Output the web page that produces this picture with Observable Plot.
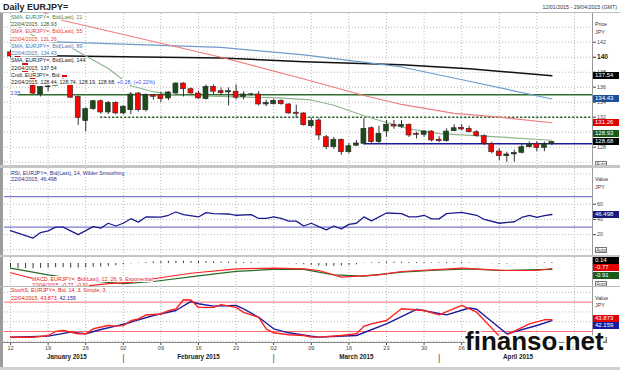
<!DOCTYPE html>
<html>
<head>
<meta charset="utf-8">
<script src="https://cdn.jsdelivr.net/npm/d3@7"></script>
<script src="https://cdn.jsdelivr.net/npm/@observablehq/plot@0.6"></script>
<style>
html,body{margin:0;padding:0;background:#fff;}
#wrap{position:relative;width:620px;height:370px;overflow:hidden;background:#fff;font-family:"Liberation Sans",Arial,sans-serif;}
#wrap svg{position:absolute;left:0;}
.t{position:absolute;white-space:nowrap;}
.lg{position:absolute;white-space:nowrap;font-size:5.3px;}
.lg span{background:#fff;}
.vb{position:absolute;left:593px;width:26px;height:7px;line-height:7px;font-size:6px;color:#fff;padding-left:2px;box-sizing:border-box;white-space:nowrap;}
.auto{position:absolute;left:595px;width:12px;height:6.5px;line-height:5.5px;font-size:4.6px;color:#333;border:0.8px solid #777;background:#fff;text-align:center;box-sizing:border-box;}
.bar{position:absolute;}
.wm{text-shadow:2px 0 0 #fff,-2px 0 0 #fff,0 2px 0 #fff,0 -2px 0 #fff,1.5px 1.5px 0 #fff,-1.5px 1.5px 0 #fff,1.5px -1.5px 0 #fff,-1.5px -1.5px 0 #fff;}
</style>
</head>
<body>
<div id="wrap"></div>
<script>
// ================= DATA (year 2015, trading days) =================
const candleDays = ["01-12","01-13","01-14","01-15","01-16","01-19","01-20","01-21","01-22","01-23","01-26","01-27","01-28","01-29","01-30","02-02","02-03","02-04","02-05","02-06","02-09","02-10","02-11","02-12","02-13","02-16","02-17","02-18","02-19","02-20","02-23","02-24","02-25","02-26","02-27","03-02","03-03","03-04","03-05","03-06","03-09","03-10","03-11","03-12","03-13","03-16","03-17","03-18","03-19","03-20","03-23","03-24","03-25","03-26","03-27","03-30","03-31","04-01","04-02","04-03","04-06","04-07","04-08","04-09","04-10","04-13","04-14","04-15","04-16","04-17","04-20","04-21","04-22"];
const opens  = [140.65,140.1,139.6,137.9,135.03, 136.0,136.2,136.7,136.3,134.7, 131.47,133.07,134.13,132.63,133.92, 132.5,132.93,135.16,132.93,134.93, 134.93,134.5,135.16,136.49,135.73, 135.16,134.4,136.05,135.47,135.3, 135.4,134.7,135.0,135.03,133.7, 133.73,134.19,133.7,132.6,132.5, 130.8,131.56,129.33,128.0,128.99, 127.33,128.2,128.45,130.53,128.67, 130.1,130.99,130.72,130.99,129.79, 129.65,130.09,129.0,128.8,130.13, 130.59,130.45,130.0,129.47,128.45, 127.43,126.8,127.03,127.25,128.0, 128.45,127.9,128.44];
const highs  = [140.9,140.4,139.8,138.2,136.1, 136.3,137.0,137.1,136.5,134.8, 133.25,134.27,134.3,134.1,134.05, 133.55,135.3,135.3,135.1,135.0, 135.3,135.4,136.6,136.6,135.9, 135.47,136.3,136.3,135.9,135.9, 136.3,135.4,135.2,135.4,134.27, 134.4,134.3,133.8,133.6,132.6, 131.9,131.8,129.56,129.3,129.1, 128.5,128.9,131.8,130.7,130.8, 131.56,131.56,131.56,131.1,130.0, 130.2,130.2,129.4,130.45,130.99, 130.99,130.8,130.2,129.65,128.67, 127.8,127.33,127.6,128.45,128.7, 128.77,128.67,128.74];
const lows   = [139.9,139.3,137.6,135.0,134.7, 135.4,136.2,136.25,134.5,130.9, 130.05,132.9,132.4,132.36,132.3, 132.3,132.35,132.7,132.7,134.27, 133.95,134.2,135.0,134.7,135.1, 134.4,134.3,135.0,134.9,133.5, 134.3,134.3,134.8,133.5,133.4, 133.6,133.6,132.4,131.9,130.8, 130.6,128.9,127.7,127.7,126.9, 127.1,128.1,128.3,128.45,128.45, 129.33,130.4,130.5,129.3,129.1, 129.33,128.7,128.6,128.67,130.09, 130.2,129.9,129.33,128.2,127.1, 126.2,126.0,126.0,127.1,127.9, 127.4,127.4,128.19];
const closes = [140.1,139.6,137.9,135.15,136.05, 136.1,136.7,136.35,134.6,131.9, 133.07,134.13,132.63,133.92,132.5, 133.4,135.03,132.93,134.93,134.72, 134.4,135.3,136.49,135.73,135.16, 134.5,136.05,135.4,135.2,135.47, 134.6,135.03,135.05,133.7,133.92, 134.19,133.73,132.5,132.45,130.93, 131.5,129.56,128.0,128.99,127.33, 128.13,128.5,130.45,128.67,129.79, 130.99,130.76,130.99,129.56,129.65, 130.09,128.9,128.8,130.09,130.53, 130.36,130.0,129.47,128.45,127.33, 126.8,127.03,127.25,128.0,128.45, 127.9,128.40,128.68];

const sma21Days   = ["01-12","01-15","01-22","01-29","02-03","02-06","02-11","02-23","03-02","03-09","03-12","03-18","03-23","03-26","04-01","04-09","04-22"];
const sma21Values = [144.7,142.9,141.3,138.5,136.2,135.4,134.95,134.7,134.6,134.3,133.6,132.2,131.3,130.45,129.8,129.47,128.93];
const sma55Days   = ["01-16","01-21","02-19","03-06","03-18","03-25","04-03","04-13","04-22"];
const sma55Values = [146.1,144.9,140.0,137.1,134.9,133.7,132.5,132.0,131.26];
const sma89Days   = ["01-12","01-21","02-19","03-06","03-25","04-07","04-22"];
const sma89Values = [142.3,142.0,141.3,140.3,138.7,136.8,134.43];
const sma144Days  = ["01-12","02-02","02-19","03-06","03-25","04-07","04-22"];
const sma144Values= [140.25,140.05,139.9,139.4,139.0,138.45,137.54];

const levelValues = [135, 132, 128.45];
const levelStart  = ["01-13","01-28","03-18"];

const rsiDays = ["01-12","01-13","01-15","01-16","01-19","01-20","01-21","01-23","01-27","01-28","01-29","01-30","02-02","02-03","02-04","02-05","02-09","02-10","02-11","02-12","02-16","02-17","02-18","02-20","02-23","02-25","02-26","02-27","03-02","03-03","03-04","03-05","03-06","03-09","03-10","03-11","03-12","03-13","03-16","03-17","03-18","03-19","03-23","03-25","03-26","03-27","03-30","03-31","04-01","04-02","04-06","04-08","04-09","04-13","04-15","04-16","04-17","04-20","04-21","04-22"];
const rsiValues = [25.4,22,15.6,22.8,25,30,30,20,30.5,28.5,35,31.4,35,41,36.5,43.3,43,45.5,49.8,46.4,43.3,49,47.7,47.2,45.5,46.4,41.3,41.3,43.3,41.3,37.8,37.8,31.4,35,30.5,26.3,31.4,27.6,33.6,35,43.3,38.2,48.5,47.7,43.3,43.3,45.5,40.8,40.8,47.7,49.4,45.5,40,35,37,42.6,45.5,42.6,45.0,46.498];
const rsiBands = [70, 30];

const macdDays   = ["01-12","01-15","01-20","01-23","01-29","02-03","02-06","02-13","02-23","03-02","03-06","03-10","03-13","03-20","03-25","04-06","04-09","04-14","04-20","04-22"];
const macdValues = [-1.43,-2.31,-3.0,-3.6,-3.1,-2.9,-2.35,-1.5,-0.82,-0.72,-0.82,-1.08,-2.1,-1.74,-1.23,-0.72,-0.92,-1.08,-1.08,-0.77];
const signalDays   = ["01-12","01-19","01-26","02-02","02-06","02-16","02-23","03-02","03-06","03-12","03-18","03-25","03-31","04-07","04-13","04-22"];
const signalValues = [-0.72,-1.74,-2.6,-3.1,-2.77,-1.9,-1.2,-0.92,-0.92,-1.74,-1.95,-1.34,-1.08,-0.82,-1.08,-0.91];
const histValues = [-0.7,-0.8,-0.8,-0.8,-0.75,-0.7,-0.65,-0.65,-0.7,-0.7, -0.65,-0.6,-0.55,-0.45,-0.35,-0.2,-0.05,0.05,0.15,0.25, 0.3,0.35,0.35,0.35,0.3,0.3,0.3,0.25,0.2,0.2, 0.2,0.15,0.15,0.1,0.05,0.05,0,-0.05,-0.1,-0.2, -0.3,-0.4,-0.45,-0.45,-0.4,-0.3,-0.2,0.05,0.1,0.15, 0.2,0.2,0.2,0.15,0.15,0.15,0.1,0.1,0.15,0.15, 0.15,0.1,0.05,0,-0.05,-0.1,-0.1,-0.05,0,0.05, 0.05,0.1,0.14];

const stochKDays = ["01-12","01-15","01-19","01-20","01-21","01-23","01-26","01-27","01-29","01-30","02-02","02-03","02-04","02-05","02-09","02-10","02-11","02-12","02-13","02-16","02-18","02-19","02-23","02-24","02-26","02-27","03-02","03-04","03-06","03-09","03-10","03-13","03-17","03-18","03-19","03-23","03-25","03-30","04-01","04-06","04-08","04-13","04-14","04-17","04-21","04-22"];
const stochKValues = [8.3,8.3,11.8,20,22,15.3,15.3,25.5,32.3,31,32,42,45.6,53.7,55.8,62.5,66,85,84.5,69.3,69.3,75,69.3,59,49,25.5,17.3,13.3,11.8,8.4,8.4,11.8,15.3,30.8,35.7,42.5,66.4,62.9,54,73.2,59.4,10.5,13.3,35.7,43.9,43.873];
const stochDDays = ["01-12","01-19","01-22","01-26","01-28","01-30","02-03","02-06","02-11","02-13","02-16","02-18","02-23","02-24","02-26","03-02","03-04","03-09","03-10","03-17","03-23","03-27","04-02","04-07","04-08","04-14","04-20","04-22"];
const stochDValues = [8.4,10.5,18.7,15.3,24,31,39,52.7,62.9,81.4,76.7,71.8,73.2,66.3,49,25.5,17.3,10.5,8.4,11.8,35.7,65.4,54,68,65.4,15.3,32.3,42.159];
const stochBands = [80, 20];

const tickDays   = ["01-12","01-19","01-26","02-02","02-09","02-16","02-23","03-02","03-09","03-16","03-23","03-30","04-06","04-13","04-20","04-27"];
const tickLabels = ["12","19","26","02","09","16","23","02","09","16","23","30","06","13","20","27"];
const monthNames = ["January 2015","February 2015","March 2015","April 2015"];
const monthFirst = ["01-12","02-02","03-02","04-01"];
const monthLast  = ["01-30","02-27","03-31","04-29"];
const priceTicks = [142,138,136,134,132,130,128];
const priceMajor = [140];
const rsiTicks = [20,40,60];
const lastDate = "22/04/2015";

// ================= helpers =================
const wrap = document.getElementById("wrap");
const fmt = d3.utcFormat("%m-%d");
const tradingDays = d3.utcDays(new Date(Date.UTC(2015,0,12)), new Date(Date.UTC(2015,3,30))).filter(d => d.getUTCDay() % 6 !== 0);
const dayIndex = new Map(tradingDays.map((d, i) => [fmt(d), i]));
const idx = s => dayIndex.get(s);
const xDomain = [-0.8, tradingDays.length - 1 + 0.4];
const series = (days, vals) => days.map((d, k) => ({i: idx(d), v: vals[k]}));
const FONT = '"Liberation Sans", Arial, sans-serif';
const base = (h, mb = 0) => ({
  width: 620, height: h + mb, marginLeft: 4, marginRight: 28, marginTop: 0, marginBottom: mb,
  x: {domain: xDomain, axis: null},
  style: {background: "transparent", fontFamily: FONT, fontSize: "5.3px", overflow: "visible"}
});
const G = {stroke: "#a8a8a8", strokeOpacity: 1, strokeDasharray: "1,2", strokeWidth: 0.8};
const mondays = tickDays.map(idx);
const labelByIdx = new Map(mondays.map((m, k) => [m, tickLabels[k]]));

const candles = candleDays.map((d, k) => ({i: idx(d), o: opens[k], h: highs[k], l: lows[k], c: closes[k]}));
const hist = candleDays.map((d, k) => ({i: idx(d), v: histValues[k]}));
const levelStyles = [
  {stroke: "#2f6f2f", strokeWidth: 1.5},
  {stroke: "#1f5a1f", strokeWidth: 1.4, strokeDasharray: "2,2"},
  {stroke: "#1c1c9a", strokeWidth: 1.5}
];

function place(svg, top) { svg.style.top = top + "px"; wrap.appendChild(svg); }
function yOf(plot, top, v) {
  const s = plot.scale("y");
  const p = s.apply ? s.apply(v) : s.range[0] + (v - s.domain[0]) / (s.domain[1] - s.domain[0]) * (s.range[1] - s.range[0]);
  return top + p;
}
function addDiv(cls, st, text) {
  const d = document.createElement("div"); d.className = cls; Object.assign(d.style, st);
  if (text != null) d.textContent = text; wrap.appendChild(d); return d;
}

// ================= MAIN PRICE PANEL =================
const MAIN_TOP = 13, MAIN_H = 152;
const mainPlot = Plot.plot({
  ...base(MAIN_H),
  y: {domain: [125.56, 145.83], axis: null},
  marks: [
    Plot.gridX(mondays, G),
    Plot.gridY(d3.range(126, 146, 2), G),
    ...levelValues.map((v, k) => Plot.ruleY([v], {x1: idx(levelStart[k]), x2: xDomain[1], ...levelStyles[k]})),
    Plot.line(series(sma144Days, sma144Values), {x: "i", y: "v", stroke: "#111", strokeWidth: 1.5, clip: true}),
    Plot.line(series(sma89Days, sma89Values), {x: "i", y: "v", stroke: "#6f9acb", strokeWidth: 1.2, clip: true}),
    Plot.line(series(sma55Days, sma55Values), {x: "i", y: "v", stroke: "#f07c7c", strokeWidth: 1.2, clip: true}),
    Plot.line(series(sma21Days, sma21Values), {x: "i", y: "v", stroke: "#8fb58f", strokeWidth: 1.2, clip: true}),
    Plot.ruleX(candles, {x: "i", y1: "l", y2: "h", stroke: "#333", strokeWidth: 1}),
    Plot.rect(candles, {x1: d => d.i - 0.33, x2: d => d.i + 0.33, y1: "o", y2: "c",
      fill: d => d.c >= d.o ? "#1b4a1b" : "#ff0000", stroke: "#2a2a2a", strokeWidth: 0.6}),
    Plot.text([levelValues[0]], {x: xDomain[0], y: d => d, text: d => String(d), dx: 6, dy: -1.5, textAnchor: "start", fontSize: 6, fill: "#5a5ab8"}),
    Plot.axisY(priceTicks, {anchor: "right", tickSize: 3, tickPadding: 1.5, fontSize: 5.3, color: "#444", label: null}),
    Plot.axisY(priceMajor, {anchor: "right", tickSize: 3, tickPadding: 1.5, fontSize: 6.6, fontWeight: "bold", color: "#222", label: null})
  ]
});
place(mainPlot, MAIN_TOP);

// ================= RSI PANEL =================
const RSI_TOP = 168, RSI_H = 87;
const rsiPlot = Plot.plot({
  ...base(RSI_H),
  y: {domain: [-7.4, 107], axis: null},
  marks: [
    Plot.gridX(mondays, G),
    Plot.gridY([0, 20, 40, 60, 80, 100], G),
    Plot.ruleY(rsiBands, {stroke: "#7b7bd0", strokeWidth: 1.2}),
    Plot.line(series(rsiDays, rsiValues), {x: "i", y: "v", stroke: "#1c1c8e", strokeWidth: 1.3}),
    Plot.axisY(rsiTicks, {anchor: "right", tickSize: 3, tickPadding: 1.5, fontSize: 5.3, color: "#444", label: null})
  ]
});
place(rsiPlot, RSI_TOP);

// ================= MACD PANEL =================
const MACD_TOP = 257, MACD_H = 29;
const macdPlot = Plot.plot({
  ...base(MACD_H),
  y: {domain: [-3.54, 0.92], axis: null},
  marks: [
    Plot.gridX(mondays, G),
    Plot.ruleX(hist, {x: "i", y1: 0, y2: "v", stroke: "#222", strokeWidth: 0.9}),
    Plot.line(series(signalDays, signalValues), {x: "i", y: "v", stroke: "#2a6a2a", strokeWidth: 1.2, clip: true}),
    Plot.line(series(macdDays, macdValues), {x: "i", y: "v", stroke: "#ff2020", strokeWidth: 1.2, clip: true})
  ]
});
place(macdPlot, MACD_TOP);

// ================= STOCHASTIC PANEL + TIME AXIS =================
const STO_TOP = 288, STO_H = 54, AXIS_H = 28;
const months = monthNames.map((n, k) => ({name: n, mid: (idx(monthFirst[k]) + idx(monthLast[k]) + 1) / 2}));
const monthBreaks = monthFirst.slice(1).map(idx);
const stoPlot = Plot.plot({
  ...base(STO_H, AXIS_H),
  y: {domain: [-2.5, 107.9], axis: null},
  marks: [
    Plot.gridX(mondays, G),
    Plot.gridY([0, 40, 60, 100], G),
    Plot.ruleY(stochBands, {stroke: "#ff6a6a", strokeWidth: 1}),
    Plot.line(series(stochDDays, stochDValues), {x: "i", y: "v", stroke: "#1a1aa0", strokeWidth: 1.4}),
    Plot.line(series(stochKDays, stochKValues), {x: "i", y: "v", stroke: "#ff2020", strokeWidth: 1.4}),
    Plot.axisX(mondays, {anchor: "bottom", tickSize: 3, tickPadding: 1, fontSize: 5.6, color: "#444", label: null, tickFormat: d => labelByIdx.get(d)}),
    Plot.text(months, {x: "mid", text: "name", frameAnchor: "bottom", dy: 14.5, lineAnchor: "middle", fontSize: 6.3, fontWeight: "bold", fill: "#222"}),
    Plot.text(monthBreaks, {x: d => d, text: () => "|", frameAnchor: "bottom", dy: 15.5, lineAnchor: "middle", fontSize: 9, fill: "#555"})
  ]
});
place(stoPlot, STO_TOP);

// ================= frame / separators =================
addDiv("bar", {left: "0px", top: "12.3px", width: "620px", height: "0.8px", background: "#bdbdbd"});
addDiv("bar", {left: "0px", top: "13px", width: "2.5px", height: "357px", background: "#9c9c9c"});
addDiv("bar", {left: "592px", top: "13px", width: "0.8px", height: "329px", background: "#999"});
addDiv("bar", {left: "3px", top: "341.8px", width: "589px", height: "0.8px", background: "#888"});
addDiv("bar", {left: "0px", top: "366.5px", width: "620px", height: "3.5px", background: "#d0d0d0"});

// ================= titles =================
addDiv("t", {left: "3px", top: "1.5px", fontSize: "9px", lineHeight: "10px", fontWeight: "bold", color: "#222"}, "Daily EURJPY=");
addDiv("t", {right: "3px", top: "3.3px", fontSize: "5.3px", lineHeight: "8px", color: "#333"}, "12/01/2015 - 29/04/2015 (GMT)");

// ================= legends =================
function legend(left, top, lineH, lines) {
  const box = addDiv("lg", {left: left + "px", top: top + "px"});
  for (const segs of lines) {
    const row = document.createElement("div");
    row.style.height = lineH + "px"; row.style.lineHeight = lineH + "px";
    const outer = document.createElement("span");
    for (const [t, c] of segs) {
      const s = document.createElement("span");
      if (t === null) {
        Object.assign(s.style, {display: "inline-block", width: "5px", height: "2px", background: c, marginLeft: "3px", verticalAlign: "middle"});
      } else { s.textContent = t; s.style.color = c; }
      outer.appendChild(s);
    }
    row.appendChild(outer); box.appendChild(row);
  }
  return box;
}
const f2 = v => v.toFixed(2);
const last = closes.length - 1;
const chg = closes[last] - closes[last - 1];
const chgTxt = (chg >= 0 ? "+" : "") + f2(chg) + ", (" + (chg >= 0 ? "+" : "") + f2(chg / closes[last - 1] * 100) + "%)";
legend(11, 13.65, 7.3, [
  [["SMA, EURJPY=, Bid(Last), 21", "#4f7f4f"]],
  [[lastDate + ", " + f2(sma21Values.at(-1)), "#2f5a2f"]],
  [["SMA, EURJPY=, Bid(Last), 55", "#e83a3a"]],
  [[lastDate + ", " + f2(sma55Values.at(-1)), "#e83a3a"]],
  [["SMA, EURJPY=, Bid(Last), 89", "#4a78b8"]],
  [[lastDate + ", " + f2(sma89Values.at(-1)), "#4a78b8"]],
  [["SMA, EURJPY=, Bid(Last), 144", "#222"]],
  [[lastDate + ", " + f2(sma144Values.at(-1)), "#222"]],
  [["Cndl, EURJPY=, Bid", "#222"], [null, "#e00000"]],
  [[lastDate + ", " + [opens[last], highs[last], lows[last], closes[last]].map(f2).join(", ") + ", ", "#222"], [chgTxt, "#3355ee"]]
]);
legend(11, 169.5, 6.3, [
  [["RSI, EURJPY=, Bid(Last), 14, Wilder Smoothing", "#2a2a8a"]],
  [[lastDate + ", " + rsiValues.at(-1).toFixed(3), "#2a2a8a"]]
]);
legend(32, 275.9, 6.3, [
  [["MACD, EURJPY=, Bid(Last), 12, 26, 9, Exponential", "#e02020"]],
  [[lastDate + ", " + f2(macdValues.at(-1)) + ", " + f2(signalValues.at(-1)), "#e02020"]]
]);
legend(11, 286.3, 8, [
  [["StochS, EURJPY=, Bid, 14, 3, Simple, 3", "#e02020"]],
  [[lastDate + ", " + stochKValues.at(-1).toFixed(3) + ", ", "#e02020"], [stochDValues.at(-1).toFixed(3), "#2020a0"]]
]);

// ================= right-hand labels and value boxes =================
addDiv("t", {left: "595px", top: "21.4px", fontSize: "5.3px", lineHeight: "7.3px", color: "#333"}, "Price");
addDiv("t", {left: "595px", top: "28.6px", fontSize: "5.3px", lineHeight: "7.3px", color: "#333"}, "JPY");
addDiv("t", {left: "595px", top: "176.4px", fontSize: "5.3px", lineHeight: "7.3px", color: "#333"}, "Value");
addDiv("t", {left: "595px", top: "184.2px", fontSize: "5.3px", lineHeight: "7.3px", color: "#333"}, "JPY");
addDiv("t", {left: "595px", top: "295.3px", fontSize: "5.3px", lineHeight: "7.3px", color: "#333"}, "Value");
addDiv("t", {left: "595px", top: "301.8px", fontSize: "5.3px", lineHeight: "7.3px", color: "#333"}, "JPY");

function vbox(y, text, bg, fg = "#fff") { addDiv("vb", {top: (y - 3.5) + "px", background: bg, color: fg}, text); }
vbox(yOf(mainPlot, MAIN_TOP, sma144Values.at(-1)), f2(sma144Values.at(-1)), "#000");
vbox(yOf(mainPlot, MAIN_TOP, sma89Values.at(-1)), f2(sma89Values.at(-1)), "#1f4f9a");
vbox(yOf(mainPlot, MAIN_TOP, sma55Values.at(-1)), f2(sma55Values.at(-1)), "#e00000");
vbox(yOf(mainPlot, MAIN_TOP, sma21Values.at(-1)) - 6.5, f2(sma21Values.at(-1)), "#1b5a1b");
vbox(yOf(mainPlot, MAIN_TOP, closes[last]), f2(closes[last]), "#000");
vbox(yOf(rsiPlot, RSI_TOP, rsiValues.at(-1)), rsiValues.at(-1).toFixed(3), "#1a1a7a");
vbox(yOf(macdPlot, MACD_TOP, histValues.at(-1)) - 2, f2(histValues.at(-1)), "#000");
vbox(yOf(macdPlot, MACD_TOP, macdValues.at(-1)), f2(macdValues.at(-1)), "#e00000");
vbox(yOf(macdPlot, MACD_TOP, signalValues.at(-1)) + 7, f2(signalValues.at(-1)), "#1b5a1b");
vbox(yOf(stoPlot, STO_TOP, stochKValues.at(-1)) - 1, stochKValues.at(-1).toFixed(3), "#e00000");
vbox(yOf(stoPlot, STO_TOP, stochDValues.at(-1)) + 5, stochDValues.at(-1).toFixed(3), "#1a1aa0");
for (const y of [164, 250, 284, 340]) addDiv("auto", {top: (y - 3.25) + "px"}, "Auto");

// panel separators (drawn over legends, like the original)
addDiv("bar", {left: "0px", top: "165px", width: "620px", height: "3px", background: "#c6c6c6"});
addDiv("bar", {left: "0px", top: "255px", width: "620px", height: "2px", background: "#c6c6c6"});
addDiv("bar", {left: "0px", top: "286.3px", width: "620px", height: "1.2px", background: "#b8b8b8"});

// watermark (with a white outline, it hides what lies under it as in the original)
addDiv("t wm", {left: "465px", top: "328px", fontSize: "26px", lineHeight: "26px", fontWeight: "bold", color: "#111"}, "finanso.net");
</script>
</body>
</html>
